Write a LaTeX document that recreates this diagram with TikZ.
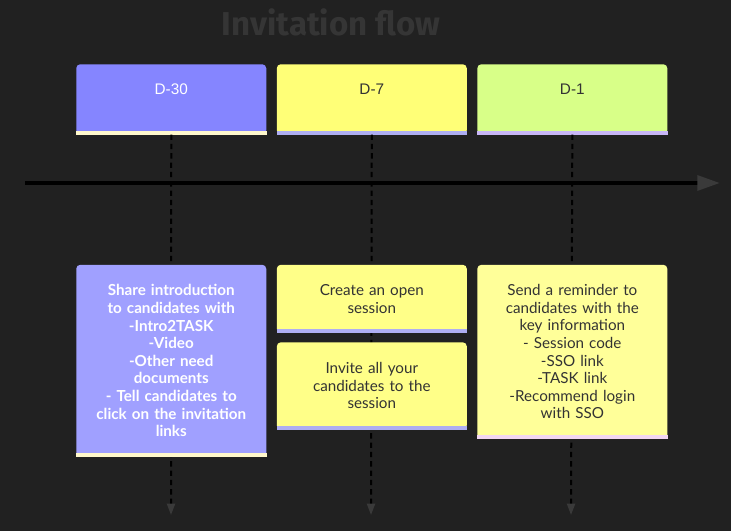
\documentclass[tikz,border=0pt]{standalone}
\usepackage{fontspec}
\setmainfont{Lato}
\newfontfamily\titlefont{Fira Sans}
\newfontfamily\headfont{Liberation Sans}
\usetikzlibrary{arrows.meta, positioning}
\definecolor{mybg}{HTML}{212121}
\definecolor{mytitle}{HTML}{353535}
\definecolor{mytip}{HTML}{3A3A3A}
\definecolor{mytext}{HTML}{333333}
\definecolor{headblue}{HTML}{8585FF}
\definecolor{headyellow}{HTML}{FFFF77}
\definecolor{headgreen}{HTML}{D8FF88}
\definecolor{cardblue}{HTML}{A0A0FF}
\definecolor{cardyellow}{HTML}{FFFF88}
\definecolor{cardpale}{HTML}{FFFF99}
\definecolor{bandcream}{HTML}{FFF8CC}
\definecolor{bandlav}{HTML}{AEAEF2}
\definecolor{bandlilac}{HTML}{C8B6F6}
\definecolor{bandpink}{HTML}{F2D6F2}
\tikzset{
header/.style={
rounded corners=3pt,
minimum width=142.5pt,
text width=130pt,
align=center,
inner xsep=0pt,
inner ysep=0pt,
text height=22.5pt,
text depth=30pt,
font=\headfont\fontsize{11.5}{13}\selectfont
},
card/.style={
rounded corners=3pt,
minimum width=142.5pt,
text width=138pt,
align=center,
inner xsep=2pt,
inner ysep=0pt,
font=\fontsize{11.4}{13.2}\selectfont
},
timeline/.style={
-{Triangle[length=17pt,width=11pt,color=mytip]},
line width=3pt,
draw=black
},
dropline/.style={
-{Triangle[length=8.5pt,width=6pt,color=mytip]},
line width=1.5pt,
dash pattern=on 4pt off 3pt,
draw=black
}
}
\newcommand{\bandline}[2]{\fill[#2] ([yshift=3pt]#1.south west) rectangle (#1.south east);}

\begin{document}
\begin{tikzpicture}[x=0.75pt, y=-0.75pt, node distance=7.5pt and 7.5pt]
\fill[mybg] (0,0) rectangle (731,531);

\node[font=\titlefont\bfseries\fontsize{24.8}{28}\selectfont, text=mytitle] (title) at (331,22) {Invitation flow};

% timeline
\coordinate (tlstart) at (25,183);
\coordinate (tlend) at (720,183);
\draw[timeline] (tlstart) -- (tlend);

% milestones
\node[header, fill=headblue, text=white, anchor=north west] (d30) at (76,64) {D-30};
\node[header, fill=headyellow, text=mytext, right=of d30] (d7) {D-7};
\node[header, fill=headgreen, text=mytext, right=of d7] (d1) {D-1};
\bandline{d30}{bandcream}
\bandline{d7}{bandlav}
\bandline{d1}{bandlilac}

\coordinate (end30) at (171,515);
\coordinate (end7) at (371,515);
\coordinate (end1) at (571,515);
\draw[dropline] (d30.south) -- (end30);
\draw[dropline] (d7.south) -- (end7);
\draw[dropline] (d1.south) -- (end1);

% tasks
\node[card, fill=cardblue, text=white, font=\bfseries\fontsize{11.4}{13.2}\selectfont,
  minimum height=144pt, below=97.5pt of d30] (share) {Share introduction\\to candidates with\\-Intro2TASK\\-Video\\-Other need\\documents\\- Tell candidates to\\click on the invitation\\links};
\node[card, fill=cardyellow, text=mytext, minimum height=51pt, below=97.5pt of d7] (open) {Create an open\\session};
\node[card, fill=cardyellow, text=mytext, minimum height=65.25pt, below=6.75pt of open] (invite) {Invite all your\\candidates to the\\session};
\node[card, fill=cardpale, text=mytext, minimum height=130.5pt, below=97.5pt of d1] (remind) {Send a reminder to\\candidates with the\\key information\\- Session code\\-SSO link\\-TASK link\\-Recommend login\\with SSO};
\bandline{share}{bandcream}
\bandline{open}{bandlav}
\bandline{invite}{bandlav}
\bandline{remind}{bandpink}

\end{tikzpicture}
\end{document}
